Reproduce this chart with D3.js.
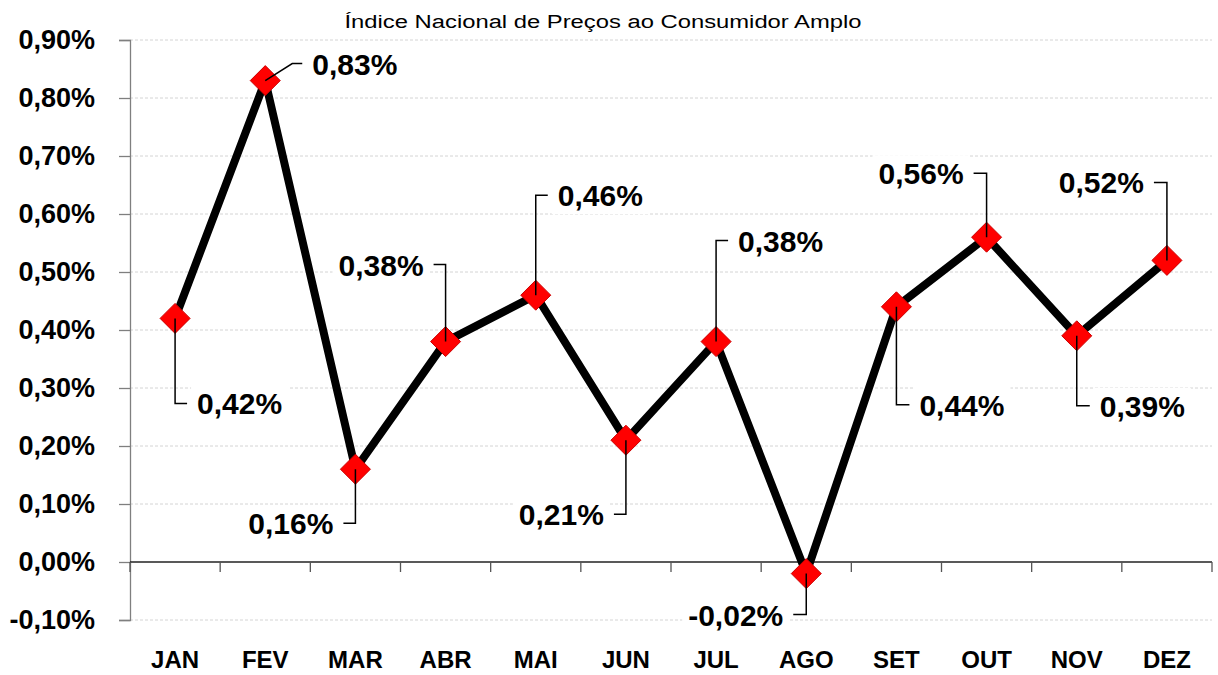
<!DOCTYPE html>
<meta charset="utf-8">
<script src="https://cdn.jsdelivr.net/npm/d3@7"></script>
<style>
body { margin: 0; background: #fff; }
.tick-label { font-family: "Liberation Sans", Arial, sans-serif; font-weight: bold; fill: #000; }
.grid line { stroke: #d4d4d4; stroke-dasharray: 3,2; }
.leader { stroke: #000; stroke-width: 1.5; fill: none; }
</style>
<body>
<script>

const width = 1218,
      height = 675;

// data
const months = ['JAN', 'FEV', 'MAR', 'ABR', 'MAI', 'JUN', 'JUL', 'AGO', 'SET', 'OUT', 'NOV', 'DEZ'];
const ipca = [0.42, 0.83, 0.16, 0.38, 0.46, 0.21, 0.38, -0.02, 0.44, 0.56, 0.39, 0.52];
const yTicks = [-0.10, 0.00, 0.10, 0.20, 0.30, 0.40, 0.50, 0.60, 0.70, 0.80, 0.90];
const title = 'Índice Nacional de Preços ao Consumidor Amplo';

// label placement (pixels from the point): elbow dy, horizontal arm
const labelPos = [
  {dy: 85, hx: 12}, {dy: -17, hx: 27, diag: true}, {dy: 54, hx: -12}, {dy: -77, hx: -12},
  {dy: -100, hx: 12}, {dy: 74, hx: -12}, {dy: -101, hx: 12}, {dy: 41, hx: -13},
  {dy: 98, hx: 13}, {dy: -64, hx: -13}, {dy: 70, hx: 13}, {dy: -78, hx: -13}
];

const margin = {top: 40, right: 6, bottom: 55, left: 130};

const svg = d3.select("body").append("svg")
    .attr("width", width)
    .attr("height", height);

const x = d3.scaleBand()
    .domain(months)
    .range([margin.left, width - margin.right]);

const y = d3.scaleLinear()
    .domain([-0.10, 0.90])
    .range([height - margin.bottom, margin.top]);

const fmt = v => d3.format(".2f")(v).replace('.', ',').replace('\u2212', '-') + '%';
const cx = m => x(m) + x.bandwidth() / 2;

// title
svg.append("text")
    .attr("x", 603)
    .attr("y", 28)
    .attr("text-anchor", "middle")
    .attr("textLength", 517)
    .attr("lengthAdjust", "spacingAndGlyphs")
    .style("font-family", "'Liberation Sans', Arial, sans-serif")
    .style("font-size", "18px")
    .style("fill", "#000")
    .text(title);

// gridlines
svg.append("g").attr("class", "grid")
  .selectAll("line")
  .data(yTicks.filter(t => Math.abs(t) > 1e-9))
  .enter().append("line")
    .attr("x1", margin.left).attr("x2", width - margin.right)
    .attr("y1", d => y(d)).attr("y2", d => y(d));

// y axis
const yAxis = svg.append("g")
    .attr("transform", `translate(${margin.left},0)`)
    .call(d3.axisLeft(y).tickValues(yTicks).tickSize(11).tickPadding(24).tickFormat(fmt));
yAxis.select(".domain").attr("stroke", "#7f7f7f").attr("stroke-width", 1.3);
yAxis.selectAll(".tick line").attr("stroke", "#7f7f7f").attr("stroke-width", 1.3);
yAxis.selectAll(".tick text")
    .attr("class", "tick-label")
    .style("font-size", "27px");

// x axis on the zero line
const bounds = months.map(m => x(m)).concat([width - margin.right]);
svg.append("line")
    .attr("x1", margin.left).attr("x2", width - margin.right)
    .attr("y1", y(0)).attr("y2", y(0))
    .attr("stroke", "#222").attr("stroke-width", 1.5);
svg.append("g").selectAll("line")
  .data(bounds)
  .enter().append("line")
    .attr("x1", d => d).attr("x2", d => d)
    .attr("y1", y(0)).attr("y2", y(0) + 10)
    .attr("stroke", "#555").attr("stroke-width", 1.3);

svg.append("g").selectAll("text")
  .data(months)
  .enter().append("text")
    .attr("class", "tick-label")
    .attr("x", d => cx(d))
    .attr("y", 668)
    .attr("text-anchor", "middle")
    .style("font-size", "24px")
    .text(d => d);

// series line
const line = d3.line()
    .x((d, i) => cx(months[i]))
    .y(d => y(d));

svg.append("path")
    .datum(ipca)
    .attr("d", line)
    .attr("fill", "none")
    .attr("stroke", "#000")
    .attr("stroke-width", 8)
    .attr("stroke-linejoin", "miter");

// markers
svg.append("g").selectAll("path")
  .data(ipca)
  .enter().append("path")
    .attr("transform", (d, i) => `translate(${cx(months[i])},${y(d)})`)
    .attr("d", "M0,-15L15,0L0,15L-15,0Z")
    .attr("fill", "#ff0000")
    .attr("stroke", "#cc0000")
    .attr("stroke-width", 1);

// data labels with leader lines
const labels = svg.append("g");
ipca.forEach((v, i) => {
  const p = labelPos[i];
  const px = cx(months[i]), py = y(v);
  const ey = py + p.dy;
  const dir = p.hx > 0 ? 1 : -1;
  let pts;
  if (p.diag) {
    pts = [[px, py], [px + p.hx, ey], [px + p.hx + 10, ey]];
  } else {
    pts = [[px, py], [px, ey], [px + p.hx, ey]];
  }
  const end = pts[pts.length - 1];
  labels.append("path")
      .attr("class", "leader")
      .attr("d", d3.line()(pts));

  const t = labels.append("text")
      .attr("class", "tick-label")
      .attr("x", end[0] + dir * 10)
      .attr("y", ey + 11)
      .attr("text-anchor", dir > 0 ? "start" : "end")
      .style("font-size", "30px")
      .text(fmt(v));
  const bb = t.node().getBBox();
  labels.insert("rect", "text")
      .attr("x", bb.x - 6).attr("y", bb.y - 2)
      .attr("width", bb.width + 12).attr("height", bb.height + 4)
      .attr("fill", "#fff");
});

</script>
